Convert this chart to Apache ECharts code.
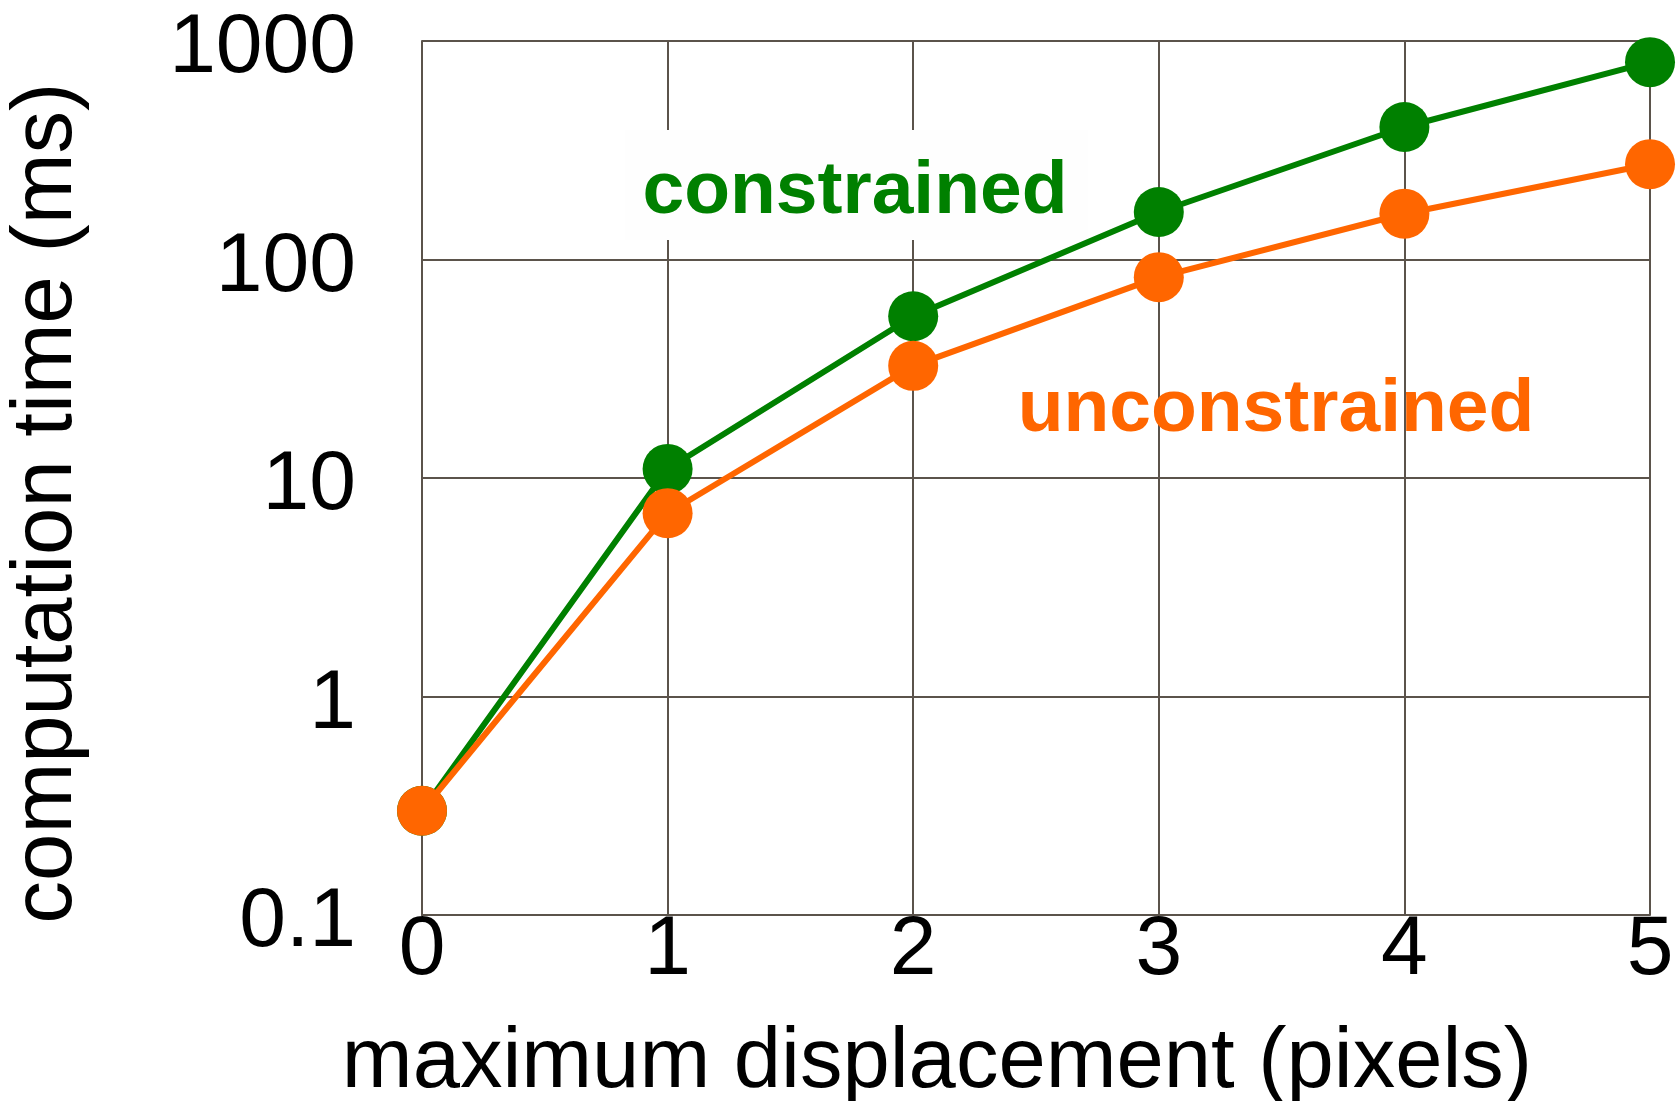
<!DOCTYPE html>
<html>
<head>
<meta charset="utf-8">
<script src="https://cdn.jsdelivr.net/npm/echarts@6/dist/echarts.min.js"></script>
<style>
html,body{margin:0;padding:0;background:#fff;}
#chart{width:1676px;height:1101px;}
</style>
</head>
<body>
<div id="chart"></div>
<script>
const xValues = [0, 1, 2, 3, 4, 5];
const constrained = [0.3, 11, 55, 165, 404, 800];
const unconstrained = [0.3, 6.9, 32.6, 83, 162, 273];
const xTicks = ['0', '1', '2', '3', '4', '5'];
const yTicks = ['0.1', '1', '10', '100', '1000'];

const FONT = "'Liberation Sans', Arial, sans-serif";
const GRID = '#5b534b';
const GREEN = '#008000';
const ORANGE = '#ff6600';

const chart = echarts.init(document.getElementById('chart'));
chart.setOption({
  backgroundColor: '#ffffff',
  animation: false,
  grid: { left: 422, right: 26, top: 41, bottom: 186, containLabel: false, outerBoundsMode: 'none' },
  xAxis: {
    type: 'value', min: 0, max: 5, interval: 1,
    name: 'maximum displacement (pixels)', nameLocation: 'middle', nameGap: 106,
    nameTextStyle: { fontFamily: FONT, fontSize: 85, color: '#000', padding: [0, 198, 0, 0] },
    axisLine: { show: true, lineStyle: { color: GRID, width: 2 } },
    axisTick: { show: false },
    axisLabel: { fontFamily: FONT, fontSize: 84, color: '#000', margin: -6,
      formatter: v => xTicks[Math.round(v)] },
    splitLine: { show: true, lineStyle: { color: GRID, width: 2 } }
  },
  yAxis: {
    type: 'log', logBase: 10, min: 0.1, max: 1000,
    name: 'computation time (ms)', nameLocation: 'middle', nameGap: 332, nameRotate: 90,
    nameTextStyle: { fontFamily: FONT, fontSize: 85, color: '#000', padding: [0, 50, 0, 0] },
    axisLine: { show: true, lineStyle: { color: GRID, width: 2 } },
    axisTick: { show: false },
    axisLabel: { fontFamily: FONT, fontSize: 84, color: '#000', margin: 66,
      formatter: v => '{t|' + (yTicks.find(t => Math.abs(parseFloat(t) - v) < 1e-9 * Math.max(1, v)) || String(v)) + '}',
      rich: { t: { fontFamily: FONT, fontSize: 84, color: '#000', padding: [16, 0, 0, 0] } }
    },
    splitLine: { show: true, lineStyle: { color: GRID, width: 2 } }
  },
  graphic: [
    { type: 'rect', z: 1, shape: { x: 625, y: 130, width: 463, height: 110 },
      style: { fill: '#fefefe' } },
    { type: 'text', z: 100, style: { x: 855, y: 192, text: 'constrained', align: 'center', verticalAlign: 'middle',
      font: "bold 75px 'Liberation Sans', Arial, sans-serif", fill: GREEN } },
    { type: 'text', z: 100, style: { x: 1276, y: 410, text: 'unconstrained', align: 'center', verticalAlign: 'middle',
      font: "bold 75px 'Liberation Sans', Arial, sans-serif", fill: ORANGE } }
  ],
  series: [
    { name: 'constrained', type: 'line', data: xValues.map((x, i) => [x, constrained[i]]),
      symbol: 'circle', symbolSize: 50, lineStyle: { color: GREEN, width: 6 },
      itemStyle: { color: GREEN }, z: 3 },
    { name: 'unconstrained', type: 'line', data: xValues.map((x, i) => [x, unconstrained[i]]),
      symbol: 'circle', symbolSize: 50, lineStyle: { color: ORANGE, width: 6 },
      itemStyle: { color: ORANGE }, z: 4 }
  ]
});
</script>
</body>
</html>
